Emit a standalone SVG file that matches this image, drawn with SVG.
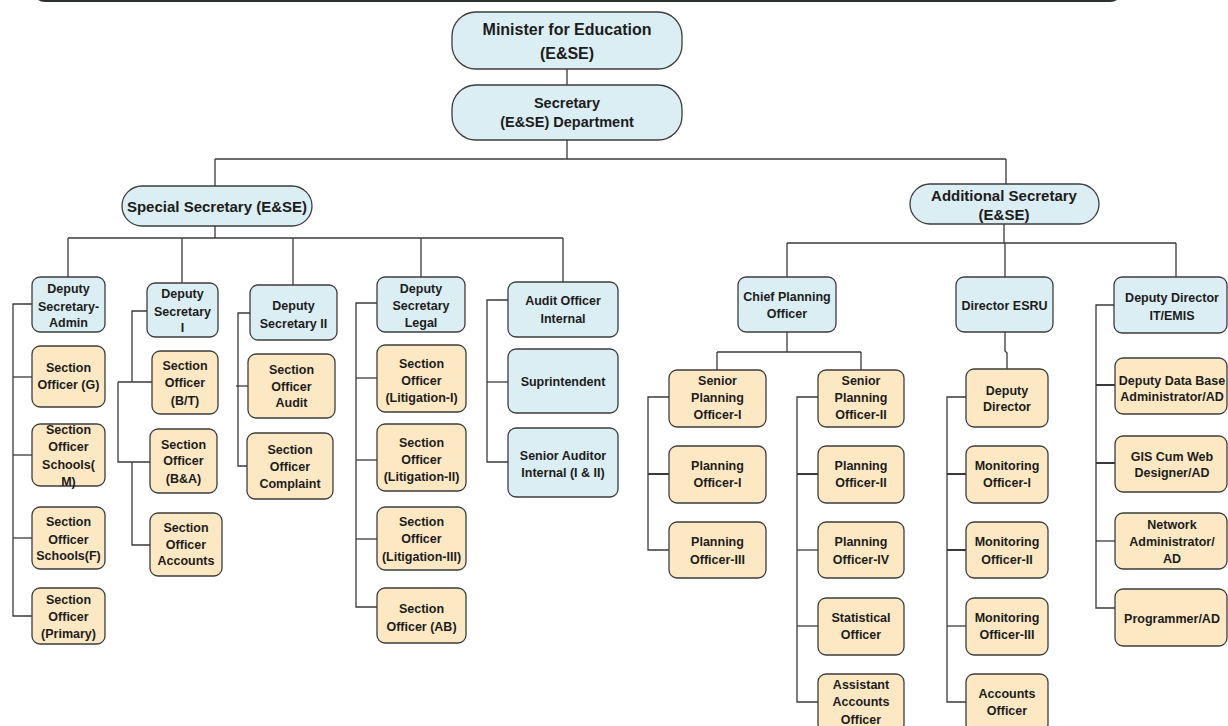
<svg xmlns="http://www.w3.org/2000/svg" width="1228" height="726" viewBox="0 0 1228 726">
  <style>
    .b { fill: #dbeef3; stroke: #3d3d3d; stroke-width: 1.3; }
    .o { fill: #fce9c4; stroke: #3d3d3d; stroke-width: 1.3; }
    text { font-family: "Liberation Sans", Arial, sans-serif; font-weight: bold; fill: #1c1c1c; text-anchor: middle; font-size: 12.5px; }
    .xl { font-size: 16px; }
    .l { font-size: 14.5px; }
    .m { font-size: 15px; }
    .lines path { fill: none; stroke: #3a3a3a; stroke-width: 1.3; }
    .lines .thick { stroke-width: 2; }
  </style>
  <rect width="1228" height="726" fill="#ffffff"/>
  <!-- frame edge along the top -->
  <path d="M36 -8 Q36 1 45 1 H1110 Q1119 1 1119 -8" fill="none" stroke="#2b3030" stroke-width="2"/>

  <!-- connectors -->
  <g class="lines" id="connectors">
    <path d="M567 69 V85"/>
    <path d="M567 140 V159"/>
    <path d="M215 159 H1006"/>
    <path d="M215 159 V186"/>
    <path d="M1006 159 V184"/>
    <path d="M215 226 V238"/>
    <path d="M68 238 H563"/>
    <path d="M68 238 V277"/>
    <path d="M182 238 V283"/>
    <path d="M293 238 V285"/>
    <path d="M421 238 V277"/>
    <path d="M563 238 V282"/>
    <!-- Deputy Secretary-Admin -->
    <path d="M32 304 H13 V616 H32"/>
    <path d="M13 377 H32"/>
    <path d="M13 455 H32"/>
    <path d="M13 538 H32"/>
    <!-- Deputy Secretary I -->
    <path d="M147 311 H132 V382"/>
    <path d="M118 382 H152"/>
    <path d="M118 382 V462 H150"/>
    <path d="M132 462 V545 H150"/>
    <!-- Deputy Secretary II -->
    <path d="M250 313 H238 V466 H247"/>
    <path d="M236 386 H248"/>
    <!-- Deputy Secretary Legal -->
    <path d="M377 303 H356 V607 H377"/>
    <path d="M356 378 H377"/>
    <path d="M356 460 H377"/>
    <path d="M356 539 H377"/>
    <!-- Audit Officer Internal -->
    <path d="M508 300 H487 V462 H508"/>
    <path d="M487 382 H508"/>
    <!-- Additional Secretary -->
    <path d="M1004 224 V243"/>
    <path d="M787 243 H1176"/>
    <path d="M787 243 V277"/>
    <path d="M1005 243 V277"/>
    <path d="M1176 243 V277"/>
    <!-- Chief Planning Officer -->
    <path d="M787 332 V352"/>
    <path d="M717 352 H861"/>
    <path d="M717 352 V370"/>
    <path d="M861 352 V370"/>
    <path d="M669 397 H648 V550 H669"/>
    <path class="thick" d="M648 474 H669"/>
    <path d="M818 397 H797 V702 H818"/>
    <path class="thick" d="M797 474 H818"/>
    <path d="M797 550 H818"/>
    <path d="M797 626 H818"/>
    <!-- Director ESRU -->
    <path d="M1005 332 V351 L1007 353 V369"/>
    <path d="M966 397 H947 V702 H966"/>
    <path class="thick" d="M947 474 H966"/>
    <path class="thick" d="M947 550 H966"/>
    <path d="M947 626 H966"/>
    <!-- Deputy Director IT/EMIS -->
    <path d="M1114 305 H1096 V608 H1115"/>
    <path class="thick" d="M1096 385 H1115"/>
    <path class="thick" d="M1096 463 H1115"/>
    <path d="M1096 541 H1115"/>
  </g>

  <!-- top of the hierarchy -->
  <g id="minister"><rect class="b" x="452" y="12" width="230" height="57" rx="24"/>
    <text class="xl" x="567" y="35">Minister for Education</text><text class="xl" x="567" y="58.5">(E&amp;SE)</text></g>
  <g id="secretary"><rect class="b" x="452" y="85" width="230" height="55" rx="24"/>
    <text class="l" x="567" y="108">Secretary</text><text class="l" x="567" y="127">(E&amp;SE) Department</text></g>
  <g id="special-secretary"><rect class="b" x="122" y="186" width="190" height="40" rx="20"/>
    <text class="m" x="217" y="211.5">Special Secretary (E&amp;SE)</text></g>
  <g id="additional-secretary"><rect class="b" x="910" y="184" width="189" height="40" rx="20"/>
    <text class="m" x="1004" y="200.5">Additional Secretary</text><text class="m" x="1004" y="220">(E&amp;SE)</text></g>

  <!-- Special Secretary branch -->
  <g id="ds-admin"><rect class="b" x="32" y="277" width="73" height="55" rx="8"/>
    <text x="68.5" y="292.5">Deputy</text><text x="68.5" y="310.5">Secretary-</text><text x="68.5" y="326.5">Admin</text></g>
  <g id="so-g"><rect class="o" x="32" y="346" width="73" height="61" rx="8"/>
    <text x="68.5" y="372">Section</text><text x="68.5" y="389">Officer (G)</text></g>
  <g id="so-schools-m"><rect class="o" x="32" y="424" width="73" height="62" rx="8"/>
    <text x="68.5" y="434">Section</text><text x="68.5" y="451">Officer</text><text x="68.5" y="469">Schools(</text><text x="68.5" y="486">M)</text></g>
  <g id="so-schools-f"><rect class="o" x="32" y="507" width="73" height="62" rx="8"/>
    <text x="68.5" y="526">Section</text><text x="68.5" y="543.5">Officer</text><text x="68.5" y="560">Schools(F)</text></g>
  <g id="so-primary"><rect class="o" x="32" y="588" width="73" height="56" rx="8"/>
    <text x="68.5" y="603.5">Section</text><text x="68.5" y="620.5">Officer</text><text x="68.5" y="638">(Primary)</text></g>

  <g id="ds-1"><rect class="b" x="147" y="283" width="71" height="54" rx="8"/>
    <text x="182.5" y="297.5">Deputy</text><text x="182.5" y="315.5">Secretary</text><text x="182.5" y="331.5">I</text></g>
  <g id="so-bt"><rect class="o" x="152" y="351" width="66" height="63" rx="8"/>
    <text x="185" y="370">Section</text><text x="185" y="387">Officer</text><text x="185" y="405">(B/T)</text></g>
  <g id="so-ba"><rect class="o" x="150" y="429" width="67" height="64" rx="8"/>
    <text x="183.5" y="448.5">Section</text><text x="183.5" y="465">Officer</text><text x="183.5" y="482.5">(B&amp;A)</text></g>
  <g id="so-accounts"><rect class="o" x="150" y="513" width="72" height="63" rx="8"/>
    <text x="186" y="532">Section</text><text x="186" y="548.5">Officer</text><text x="186" y="565">Accounts</text></g>

  <g id="ds-2"><rect class="b" x="250" y="285" width="87" height="55" rx="8"/>
    <text x="293.5" y="309.5">Deputy</text><text x="293.5" y="327.5">Secretary II</text></g>
  <g id="so-audit"><rect class="o" x="248" y="354" width="87" height="64" rx="8"/>
    <text x="291.5" y="373.5">Section</text><text x="291.5" y="390.5">Officer</text><text x="291.5" y="407">Audit</text></g>
  <g id="so-complaint"><rect class="o" x="247" y="433" width="86" height="66" rx="8"/>
    <text x="290" y="453.5">Section</text><text x="290" y="470.5">Officer</text><text x="290" y="488">Complaint</text></g>

  <g id="ds-legal"><rect class="b" x="377" y="277" width="88" height="55" rx="8"/>
    <text x="421" y="293">Deputy</text><text x="421" y="310">Secretary</text><text x="421" y="327">Legal</text></g>
  <g id="so-lit-1"><rect class="o" x="377" y="345" width="89" height="67" rx="8"/>
    <text x="421.5" y="368">Section</text><text x="421.5" y="384.5">Officer</text><text x="421.5" y="402">(Litigation-I)</text></g>
  <g id="so-lit-2"><rect class="o" x="377" y="424" width="89" height="67" rx="8"/>
    <text x="421.5" y="447">Section</text><text x="421.5" y="464">Officer</text><text x="421.5" y="481">(Litigation-II)</text></g>
  <g id="so-lit-3"><rect class="o" x="377" y="507" width="89" height="63" rx="8"/>
    <text x="421.5" y="526">Section</text><text x="421.5" y="543">Officer</text><text x="421.5" y="560.5">(Litigation-III)</text></g>
  <g id="so-ab"><rect class="o" x="377" y="588" width="89" height="55" rx="8"/>
    <text x="421.5" y="613">Section</text><text x="421.5" y="631">Officer (AB)</text></g>

  <g id="audit-officer"><rect class="b" x="508" y="282" width="110" height="55" rx="8"/>
    <text x="563" y="305">Audit Officer</text><text x="563" y="323">Internal</text></g>
  <g id="suprintendent"><rect class="b" x="508" y="349" width="110" height="64" rx="8"/>
    <text x="563" y="386">Suprintendent</text></g>
  <g id="senior-auditor"><rect class="b" x="508" y="428" width="110" height="69" rx="8"/>
    <text x="563" y="459.5">Senior Auditor</text><text x="563" y="477">Internal (I &amp; II)</text></g>

  <!-- Additional Secretary branch -->
  <g id="chief-planning"><rect class="b" x="738" y="277" width="98" height="55" rx="8"/>
    <text x="787" y="301">Chief Planning</text><text x="787" y="318">Officer</text></g>
  <g id="spo-1"><rect class="o" x="669" y="370" width="97" height="57" rx="8"/>
    <text x="717.5" y="385">Senior</text><text x="717.5" y="402">Planning</text><text x="717.5" y="419">Officer-I</text></g>
  <g id="po-1"><rect class="o" x="669" y="446" width="97" height="57" rx="8"/>
    <text x="717.5" y="470">Planning</text><text x="717.5" y="487">Officer-I</text></g>
  <g id="po-3"><rect class="o" x="669" y="522" width="97" height="56" rx="8"/>
    <text x="717.5" y="546">Planning</text><text x="717.5" y="563.5">Officer-III</text></g>
  <g id="spo-2"><rect class="o" x="818" y="370" width="86" height="57" rx="8"/>
    <text x="861" y="385">Senior</text><text x="861" y="402">Planning</text><text x="861" y="419">Officer-II</text></g>
  <g id="po-2"><rect class="o" x="818" y="446" width="86" height="57" rx="8"/>
    <text x="861" y="470">Planning</text><text x="861" y="487">Officer-II</text></g>
  <g id="po-4"><rect class="o" x="818" y="522" width="86" height="56" rx="8"/>
    <text x="861" y="546">Planning</text><text x="861" y="563.5">Officer-IV</text></g>
  <g id="statistical"><rect class="o" x="818" y="598" width="86" height="57" rx="8"/>
    <text x="861" y="622">Statistical</text><text x="861" y="639">Officer</text></g>
  <g id="asst-accounts"><rect class="o" x="818" y="674" width="86" height="58" rx="8"/>
    <text x="861" y="689">Assistant</text><text x="861" y="706">Accounts</text><text x="861" y="723.5">Officer</text></g>

  <g id="director-esru"><rect class="b" x="956" y="277" width="97" height="55" rx="8"/>
    <text x="1004.5" y="309.5">Director ESRU</text></g>
  <g id="deputy-director"><rect class="o" x="966" y="369" width="82" height="58" rx="8"/>
    <text x="1007" y="394.5">Deputy</text><text x="1007" y="411">Director</text></g>
  <g id="mo-1"><rect class="o" x="966" y="446" width="82" height="57" rx="8"/>
    <text x="1007" y="470">Monitoring</text><text x="1007" y="487">Officer-I</text></g>
  <g id="mo-2"><rect class="o" x="966" y="522" width="82" height="56" rx="8"/>
    <text x="1007" y="546">Monitoring</text><text x="1007" y="563.5">Officer-II</text></g>
  <g id="mo-3"><rect class="o" x="966" y="598" width="82" height="57" rx="8"/>
    <text x="1007" y="622">Monitoring</text><text x="1007" y="639">Officer-III</text></g>
  <g id="accounts-officer"><rect class="o" x="966" y="674" width="82" height="58" rx="8"/>
    <text x="1007" y="698">Accounts</text><text x="1007" y="714.5">Officer</text></g>

  <g id="dd-it"><rect class="b" x="1114" y="277" width="113" height="56" rx="8"/>
    <text x="1172" y="302">Deputy Director</text><text x="1172" y="319.5">IT/EMIS</text></g>
  <g id="ddba"><rect class="o" x="1115" y="358" width="112" height="56" rx="8"/>
    <text x="1172" y="384.5">Deputy Data Base</text><text x="1172" y="400.5">Administrator/AD</text></g>
  <g id="gis"><rect class="o" x="1115" y="436" width="112" height="56" rx="8"/>
    <text x="1172" y="460.5">GIS Cum Web</text><text x="1172" y="477">Designer/AD</text></g>
  <g id="network-admin"><rect class="o" x="1115" y="513" width="112" height="56" rx="8"/>
    <text x="1172" y="528.5">Network</text><text x="1172" y="545.5">Administrator/</text><text x="1172" y="563">AD</text></g>
  <g id="programmer"><rect class="o" x="1115" y="589" width="112" height="57" rx="8"/>
    <text x="1172" y="623">Programmer/AD</text></g>
</svg>
